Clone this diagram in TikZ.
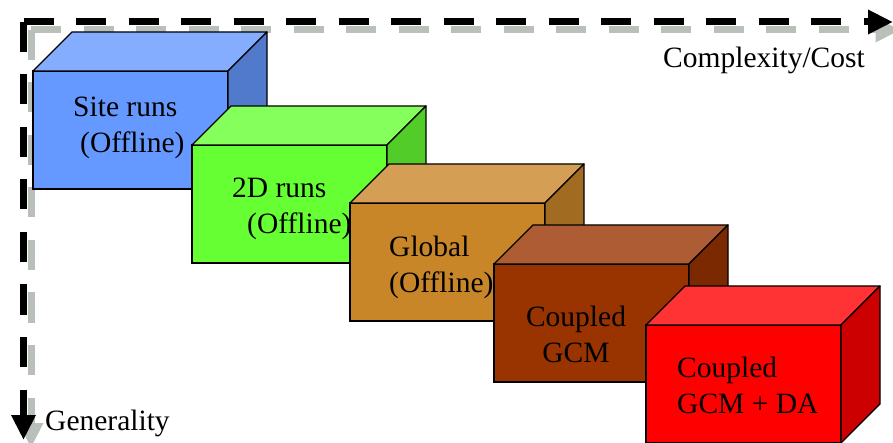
\documentclass[tikz,border=0pt]{standalone}
\usepackage{fontspec}
\setmainfont{Liberation Serif}
\usetikzlibrary{arrows.meta}
\definecolor{siteblue}{HTML}{6699FF}
\definecolor{twodgreen}{HTML}{66FF33}
\definecolor{globalorange}{HTML}{C98629}
\definecolor{coupledbrown}{HTML}{993300}
\definecolor{dared}{HTML}{FF0000}
\definecolor{shadowgray}{RGB}{185,192,185}
\begin{document}
\begin{tikzpicture}[x=1pt,y=-1pt,
    face/.style = {rectangle,draw=black,line width=1.3pt,minimum width=195pt,minimum height=118pt,outer sep=0mm,inner sep=0pt,anchor=north west},
    lbl/.style = {font=\fontsize{29.5}{36}\selectfont,align=left,anchor=base west,inner sep=0pt},
    axis/.style = {line width=7pt,dash pattern=on 30pt off 22.5pt,-{Triangle[length=25pt,width=23pt]}},
    shade/.style = {xshift=7.5pt,yshift=-8pt}]
\useasboundingbox (0,0) rectangle (893,443);
% axes, shadow first
\coordinate (corner) at (23.5,22);
\coordinate (xend) at (893,22);
\coordinate (yend) at (23.5,440);
\draw[axis,shadowgray] ([shade]corner) -- ([shade]xend);
\draw[axis,shadowgray] ([shade]corner) -- ([shade]yend);
\draw[axis] (corner) -- (xend);
\draw[axis] (corner) -- (yend);
\node[font=\fontsize{29.5}{36}\selectfont,anchor=base west,inner sep=0pt] (cost) at (663,68) {Complexity/Cost};
\node[font=\fontsize{29.5}{36}\selectfont,anchor=base west,inner sep=0pt] (gen) at (45,430) {Generality};
% boxes
\foreach \nm/\px/\py/\col in {site/33/71/siteblue, twod/192/145/twodgreen, global/350/203/globalorange, coupled/494/264/coupledbrown, da/646/325/dared}
{
    \node[face,fill=\col] (\nm) at (\px,\py) {};
    \filldraw[fill=\col!80!white,line width=1.3pt,line join=round] (\nm.north west) -- ++(39,-39) -- ++(195,0) -- (\nm.north east) -- cycle;
    \filldraw[fill=\col!80!black,line width=1.3pt,line join=round] (\nm.north east) -- ++(39,-39) -- ++(0,118) -- (\nm.south east) -- cycle;
}
% labels, anchored at the last line
\node[lbl] (sitetxt) at (73,153) {Site runs\\\hspace*{7pt}(Offline)};
\node[lbl] (twodtxt) at (232,234) {2D runs\\\hspace*{15pt}(Offline)};
\node[lbl] (globaltxt) at (389,293) {Global\\(Offline)};
\node[lbl,align=center,anchor=base] (coupledtxt) at (576,362) {Coupled\\GCM};
\node[lbl] (datxt) at (677,413) {Coupled\\GCM + DA};
\end{tikzpicture}
\end{document}
